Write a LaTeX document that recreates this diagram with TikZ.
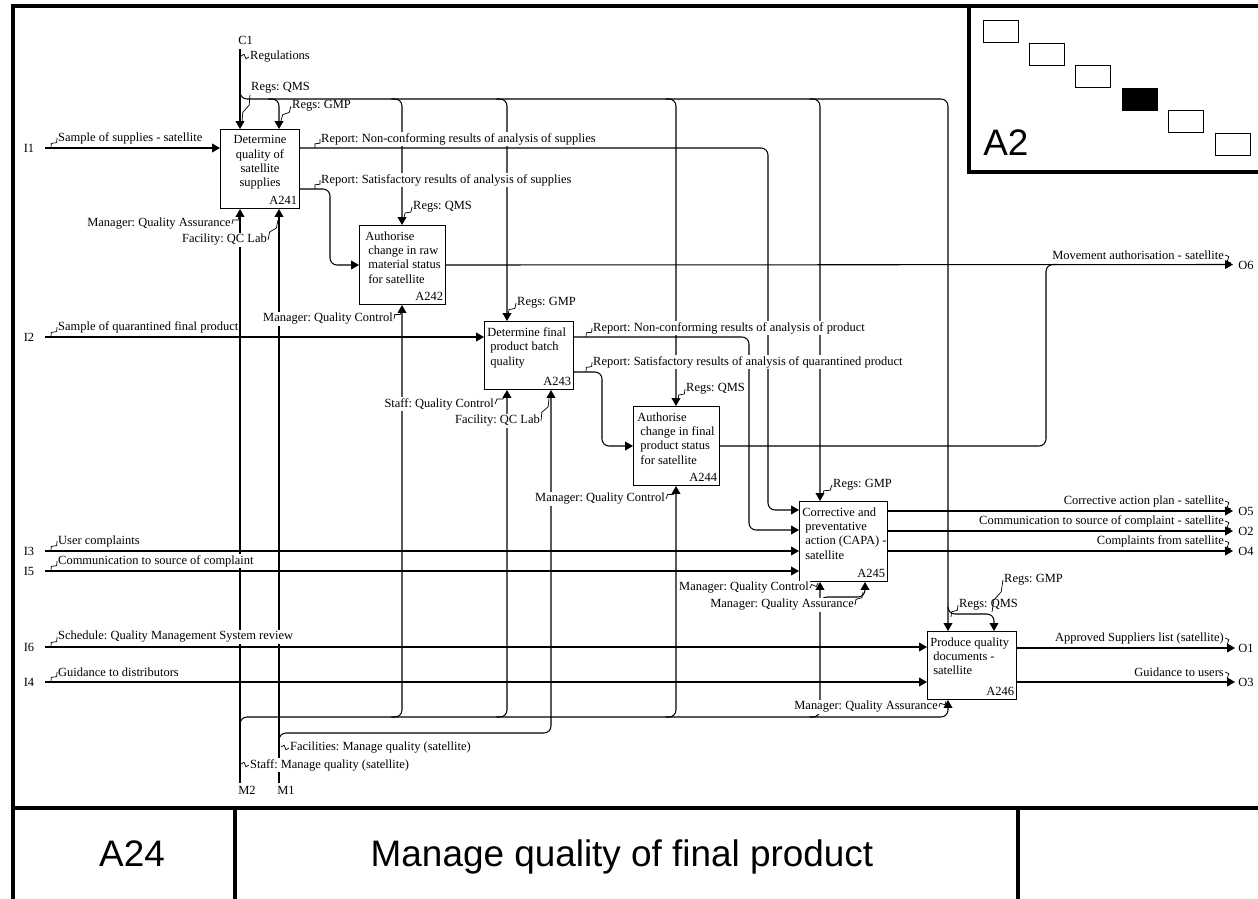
\documentclass[tikz,border=0pt]{standalone}
\usepackage{fontspec}
\setmainfont{Liberation Serif}
\newfontfamily\sansfont{Liberation Sans}
\usetikzlibrary{arrows.meta, calc}
\frenchspacing

% zig-zag leader from a label to its arrow
\newcommand{\leader}[2]{%
  \path (#1) ++#2 coordinate (ltip);
  \draw[leader] (#1) -- ($(#1)!0.35!(ltip)!1.2pt!90:(ltip)$)
    -- ($(#1)!0.65!(ltip)!1.2pt!-90:(ltip)$) -- (ltip);}

\begin{document}
\begin{tikzpicture}[
    x=0.02cm, y=-0.02cm,
    flow/.style={line width=0.6pt, rounded corners=4pt},
    into/.style={flow, -{Triangle[length=4.5pt, width=5pt]}},
    act/.style={draw, line width=0.6pt, fill=white, anchor=north west, inner sep=0pt},
    acttext/.style={font=\fontsize{7.1}{8.2}\selectfont, inner sep=0pt},
    actnum/.style={font=\fontsize{7.1}{8.2}\selectfont, inner sep=0pt, anchor=south east},
    lbl/.style={font=\fontsize{7.1}{8.2}\selectfont, fill=white, inner sep=0.5pt},
    port/.style={font=\fontsize{7.1}{8.2}\selectfont, inner sep=0pt},
    leader/.style={line width=0.4pt},
    frame/.style={line width=2.6pt},
    tree/.style={draw, line width=0.7pt, minimum width=0.7cm, minimum height=0.44cm, inner sep=0pt, anchor=north west},
    big/.style={font=\sansfont\fontsize{21}{21}\selectfont}
]
\useasboundingbox (0,0) rectangle (1258,899);

% Sheet frame and title block
\draw[frame] (1262,6) -- (13,6) -- (13,903);
\draw[frame] (13,808) -- (1262,808);
\draw[frame] (235,808) -- (235,903);
\draw[frame] (1018,808) -- (1018,903);
\draw[frame] (969,6) -- (969,172) -- (1262,172);
\node[big, anchor=base] (nodeno) at (132,866) {A24};
\node[big, anchor=base] (title) at (622,866) {Manage quality of final product};

% Node tree
\node[tree] (t1) at (983,20) {};
\node[tree] (t2) at (1029,43) {};
\node[tree] (t3) at (1075,65) {};
\node[tree, fill=black] (t4) at (1122,88) {};
\node[tree] (t5) at (1168,110) {};
\node[tree] (t6) at (1215,133) {};
\node[big, anchor=west, inner sep=0pt] (parent) at (983,143) {A2};

% Activities
\node[act, minimum width=1.58cm, minimum height=1.58cm] (a241) at (220,129) {};
\node[act, minimum width=1.72cm, minimum height=1.58cm] (a242) at (359,225) {};
\node[act, minimum width=1.78cm, minimum height=1.36cm] (a243) at (484,321) {};
\node[act, minimum width=1.72cm, minimum height=1.58cm] (a244) at (633,406) {};
\node[act, minimum width=1.76cm, minimum height=1.60cm] (a245) at (799,501) {};
\node[act, minimum width=1.78cm, minimum height=1.36cm] (a246) at (927,631) {};

% Boundary points
\coordinate (i1) at (45,148);
\coordinate (i2) at (45,337);
\coordinate (i3) at (45,551);
\coordinate (i5) at (45,571);
\coordinate (i6) at (45,647);
\coordinate (i4) at (45,682);
\coordinate (c1) at (240,49);
\coordinate (m2) at (240,783);
\coordinate (m1) at (279,783);
\coordinate (o6) at (1233,264.5);
\coordinate (o5) at (1233,511);
\coordinate (o2) at (1233,531);
\coordinate (o4) at (1233,551);
\coordinate (o1) at (1235,648);
\coordinate (o3) at (1235,682);

% Bends and branch points
\coordinate (rj) at (240,91);
\coordinate (rb1) at (279,99);
\coordinate (rb2) at (402,99);
\coordinate (rb3) at (507,99);
\coordinate (rb4) at (676,99);
\coordinate (rb5) at (820,99);
\coordinate (rb6) at (948,99);
\coordinate (rq) at (948,614);
\coordinate (rg) at (994,614);
\coordinate (mj2) at (240,728);
\coordinate (mj1) at (279,745);
\coordinate (mb2) at (402,717);
\coordinate (mb3) at (507,717);
\coordinate (mb4) at (676,717);
\coordinate (mb5) at (820,717);
\coordinate (mb6) at (948,717);
\coordinate (mf) at (551,733);
\coordinate (mq) at (820,597);
\coordinate (mqa) at (865,597);
\coordinate (nc1) at (768,510);
\coordinate (nc2) at (749,530);
\coordinate (sat1) at (330,189);
\coordinate (sat2) at (602,372);
\coordinate (mv) at (1046,264.5);

% Inputs
\draw[into] (i1) -- (i1 -| a241.west);
\draw[into] (i2) -- (i2 -| a243.west);
\draw[into] (i3) -- (i3 -| a245.west);
\draw[into] (i5) -- (i5 -| a245.west);
\draw[into] (i6) -- (i6 -| a246.west);
\draw[into] (i4) -- (i4 -| a246.west);

% Controls
\draw[into] (c1) -- (c1 |- a241.north);
\draw[into] (rj) |- (rb6) -- (rb6 |- a246.north);
\draw[into] ([xshift=-6pt]rb1) -| (rb1 |- a241.north);
\draw[into] ([xshift=-6pt]rb2) -| (rb2 |- a242.north);
\draw[into] ([xshift=-6pt]rb3) -| (rb3 |- a243.north);
\draw[into] ([xshift=-6pt]rb4) -| (rb4 |- a244.north);
\draw[into] ([xshift=-6pt]rb5) -| (rb5 |- a245.north);
\draw[into] ([yshift=4pt]rq) |- (rg) -- (rg |- a246.north);

% Mechanisms
\draw[into] (m2) -- (m2 |- a241.south);
\draw[into] (m1) -- (m1 |- a241.south);
\draw[into] (mj2) |- (mb6) -- (mb6 |- a246.south);
\draw[into] (mj1) |- (mf) -- (mf |- a243.south);
\draw[into] ([xshift=-6pt]mb2) -| (mb2 |- a242.south);
\draw[into] ([xshift=-6pt]mb3) -| (mb3 |- a243.south);
\draw[into] ([xshift=-6pt]mb4) -| (mb4 |- a244.south);
\draw[into] ([xshift=-6pt]mb5) -| (mb5 |- a245.south);
\draw[into] ([yshift=-4pt]mq) |- (mqa) -- (mqa |- a245.south);

% Outputs
\draw[into] (a241.east |- i1) -| (nc1) -- (nc1 -| a245.west);
\draw[into] (a241.east |- sat1) -- (sat1) |- (a242.west);
\draw[into] (a242.east) -- (o6);
\draw[flow] (a244.east) -| (mv) -- ([xshift=6pt]mv);
\draw[into] (a243.east |- i2) -| (nc2) -- (nc2 -| a245.west);
\draw[into] (a243.east |- sat2) -- (sat2) |- (a244.west);
\draw[into] (a245.east |- o5) -- (o5);
\draw[into] (a245.east |- o2) -- (o2);
\draw[into] (a245.east |- o4) -- (o4);
\draw[into] (a246.east |- o1) -- (o1);
\draw[into] (a246.east |- o3) -- (o3);

% Activity names and numbers
\node[acttext, align=center, anchor=north] at ([yshift=-3.5pt]a241.north) {Determine\\quality of\\satellite\\supplies};
\node[acttext, align=left, anchor=north west] at ([shift={(3.4pt,-3.5pt)}]a242.north west) {Authorise\\\hspace*{1.7pt}change in raw\\\hspace*{1.7pt}material status\\\hspace*{1.7pt}for satellite};
\node[acttext, align=left, anchor=north west] at ([shift={(1.7pt,-3.5pt)}]a243.north west) {Determine final\\\hspace*{1.7pt}product batch\\\hspace*{1.7pt}quality};
\node[acttext, align=left, anchor=north west] at ([shift={(2.3pt,-3.5pt)}]a244.north west) {Authorise\\\hspace*{1.7pt}change in final\\\hspace*{1.7pt}product status\\\hspace*{1.7pt}for satellite};
\node[acttext, align=left, anchor=north west] at ([shift={(1.7pt,-3.5pt)}]a245.north west) {Corrective and\\\hspace*{1.7pt}preventative\\\hspace*{1.7pt}action (CAPA) -\\\hspace*{1.7pt}satellite};
\node[acttext, align=left, anchor=north west] at ([shift={(1.7pt,-3.5pt)}]a246.north west) {Produce quality\\\hspace*{1.7pt}documents -\\\hspace*{1.7pt}satellite};
\node[actnum] at ([shift={(-1.5pt,2.3pt)}]a241.south east) {A241};
\node[actnum] at ([shift={(-1.5pt,2.3pt)}]a242.south east) {A242};
\node[actnum] at ([shift={(-1.5pt,2.3pt)}]a243.south east) {A243};
\node[actnum] at ([shift={(-1.5pt,2.3pt)}]a244.south east) {A244};
\node[actnum] at ([shift={(-1.5pt,2.3pt)}]a245.south east) {A245};
\node[actnum] at ([shift={(-1.5pt,2.3pt)}]a246.south east) {A246};

% Arrow labels
\node[lbl, anchor=west] (li1) at (57,138) {Sample of supplies - satellite};
\node[lbl, anchor=west] (li2) at (57,327) {Sample of quarantined final product};
\node[lbl, anchor=west] (li3) at (57,541) {User complaints};
\node[lbl, anchor=west] (li5) at (57,561) {Communication to source of complaint};
\node[lbl, anchor=west] (li6) at (57,637) {Schedule: Quality Management System review};
\node[lbl, anchor=west] (li4) at (57,672) {Guidance to distributors};
\node[lbl, anchor=west] (lreg) at (249,57) {Regulations};
\node[lbl, anchor=west] (lqms1) at (250,88) {Regs: QMS};
\node[lbl, anchor=west] (lgmp1) at (291,106) {Regs: GMP};
\node[lbl, anchor=west] (lqms2) at (412,207) {Regs: QMS};
\node[lbl, anchor=west] (lgmp3) at (516,303) {Regs: GMP};
\node[lbl, anchor=west] (lqms4) at (685,389) {Regs: QMS};
\node[lbl, anchor=west] (lgmp5) at (832,485) {Regs: GMP};
\node[lbl, anchor=west] (lgmp6) at (1003,580) {Regs: GMP};
\node[lbl, anchor=west] (lqms6) at (958,605) {Regs: QMS};
\node[lbl, anchor=west] (lnc1) at (320,139) {Report: Non-conforming results of analysis of supplies};
\node[lbl, anchor=west] (lsat1) at (320,180) {Report: Satisfactory results of analysis of supplies};
\node[lbl, anchor=west] (lnc2) at (592,328) {Report: Non-conforming results of analysis of product};
\node[lbl, anchor=west] (lsat2) at (592,362) {Report: Satisfactory results of analysis of quarantined product};
\node[lbl, anchor=east] (lmov) at (1225,255) {Movement authorisation - satellite};
\node[lbl, anchor=east] (lcap) at (1225,501) {Corrective action plan - satellite};
\node[lbl, anchor=east] (lcom) at (1225,521) {Communication to source of complaint - satellite};
\node[lbl, anchor=east] (lcmp) at (1225,541) {Complaints from satellite};
\node[lbl, anchor=east] (lasl) at (1225,638) {Approved Suppliers list (satellite)};
\node[lbl, anchor=east] (lgdu) at (1225,672) {Guidance to users};
\node[lbl, anchor=east] (lmqa1) at (232,224) {Manager: Quality Assurance};
\node[lbl, anchor=east] (lfqc1) at (268,240) {Facility: QC Lab};
\node[lbl, anchor=east] (lmqc2) at (394,319) {Manager: Quality Control};
\node[lbl, anchor=east] (lsqc3) at (495,404) {Staff: Quality Control};
\node[lbl, anchor=east] (lfqc3) at (541,421) {Facility: QC Lab};
\node[lbl, anchor=east] (lmqc4) at (666,499) {Manager: Quality Control};
\node[lbl, anchor=east] (lmqc5) at (810,588) {Manager: Quality Control};
\node[lbl, anchor=east] (lmqa5) at (855,605) {Manager: Quality Assurance};
\node[lbl, anchor=east] (lmqa6) at (939,707) {Manager: Quality Assurance};
\node[lbl, anchor=west] (lfac) at (289,748) {Facilities: Manage quality (satellite)};
\node[lbl, anchor=west] (lstf) at (249,765) {Staff: Manage quality (satellite)};

% Leaders
\leader{li1.west}{(-6,10)}
\leader{li2.west}{(-6,10)}
\leader{li3.west}{(-6,10)}
\leader{li5.west}{(-6,10)}
\leader{li6.west}{(-6,10)}
\leader{li4.west}{(-6,10)}
\leader{lreg.west}{(-8,-1)}
\leader{lqms1.south west}{(-8,28)}
\leader{lgmp1.west}{(-10,15)}
\leader{lqms2.west}{(-8,11)}
\leader{lgmp3.west}{(-8,12)}
\leader{lqms4.west}{(-7,11)}
\leader{lgmp5.west}{(-10,11)}
\leader{lgmp6.west}{(-11,32)}
\leader{lqms6.west}{(-7,12)}
\leader{lnc1.west}{(-5,9)}
\leader{lsat1.west}{(-5,9)}
\leader{lnc2.west}{(-6,9)}
\leader{lsat2.west}{(-6,10)}
\leader{lmov.east}{(6,8)}
\leader{lcap.east}{(6,8)}
\leader{lcom.east}{(6,8)}
\leader{lcmp.east}{(6,8)}
\leader{lasl.east}{(6,8)}
\leader{lgdu.east}{(6,8)}
\leader{lmqa1.east}{(7,-8)}
\leader{lfqc1.east}{(10,-20)}
\leader{lmqc2.east}{(7,-9)}
\leader{lsqc3.east}{(10,-10)}
\leader{lfqc3.east}{(8,-23)}
\leader{lmqc4.east}{(9,-9)}
\leader{lmqc5.east}{(8,-5)}
\leader{lmqa5.east}{(8,-13)}
\leader{lmqa6.east}{(7,-6)}
\leader{lfac.west}{(-8,-1)}
\leader{lstf.west}{(-8,-1)}

% ICOM codes
\node[port] (pi1) at (29,148) {I1};
\node[port] (pi2) at (29,337) {I2};
\node[port] (pi3) at (29,551) {I3};
\node[port] (pi5) at (29,571) {I5};
\node[port] (pi6) at (29,647) {I6};
\node[port] (pi4) at (29,682) {I4};
\node[port, anchor=west] (pc1) at (238,40) {C1};
\node[port, anchor=west] (pm2) at (238,790) {M2};
\node[port, anchor=west] (pm1) at (277,790) {M1};
\node[port, anchor=west] (po6) at (1238,265) {O6};
\node[port, anchor=west] (po5) at (1238,511) {O5};
\node[port, anchor=west] (po2) at (1238,531) {O2};
\node[port, anchor=west] (po4) at (1238,551) {O4};
\node[port, anchor=west] (po1) at (1238,648) {O1};
\node[port, anchor=west] (po3) at (1238,682) {O3};
\end{tikzpicture}
\end{document}
